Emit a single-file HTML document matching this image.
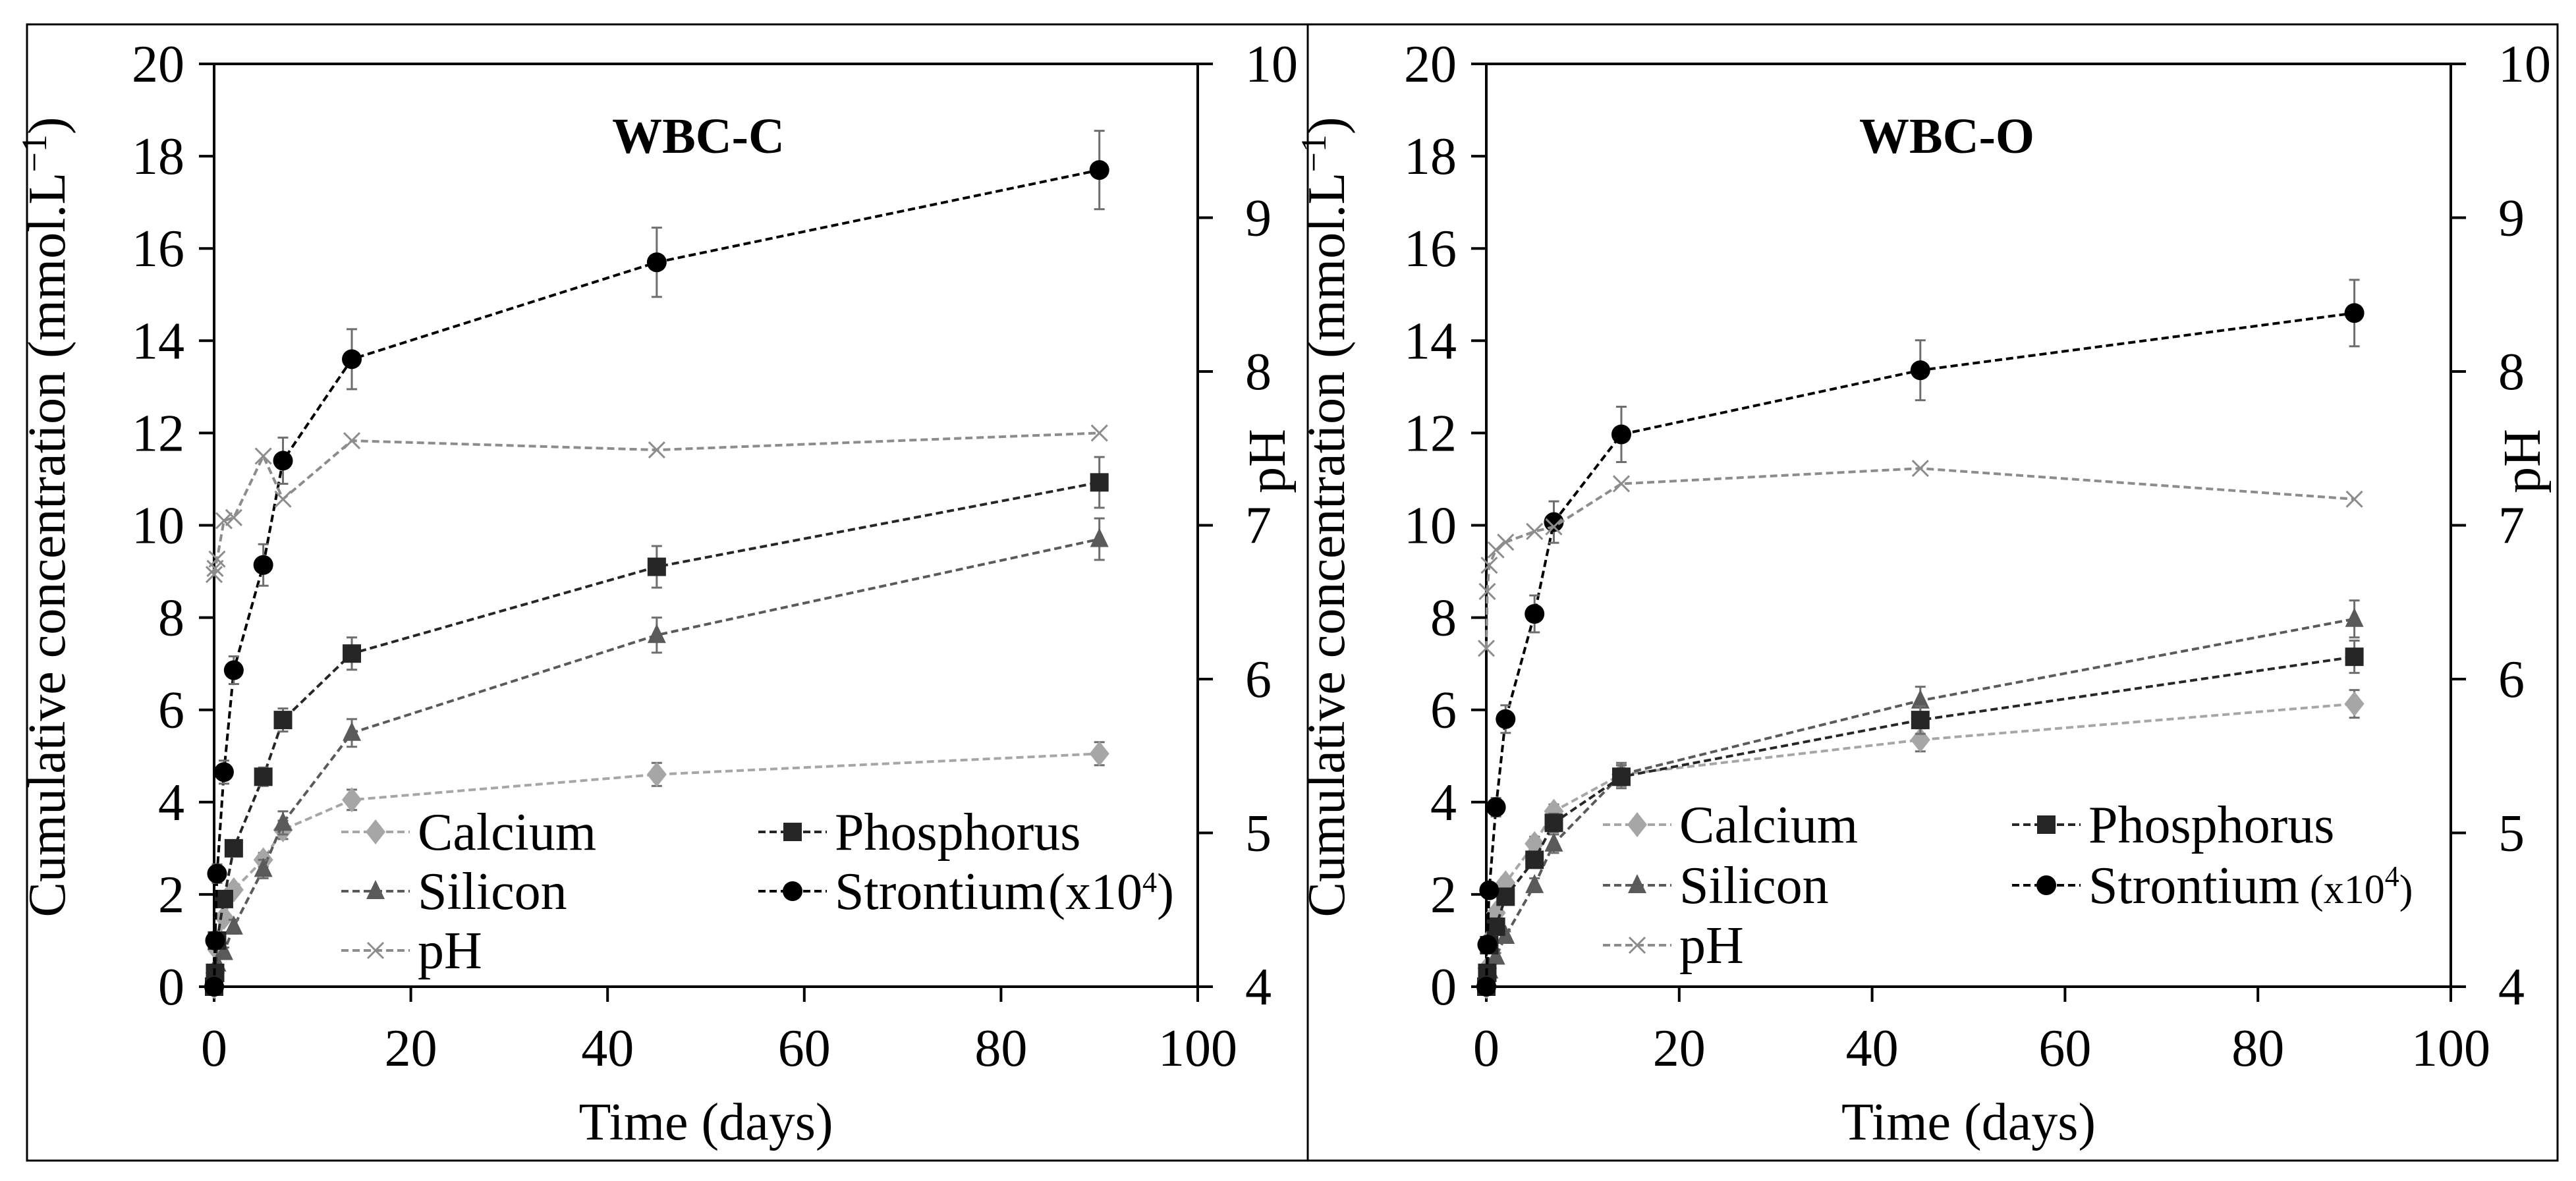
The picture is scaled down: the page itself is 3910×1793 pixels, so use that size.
<!DOCTYPE html>
<html><head><meta charset="utf-8"><style>
html,body{margin:0;padding:0;background:#fff;}
svg{display:block;}
svg text{font-family:"Liberation Serif","Times New Roman",serif;}
</style></head><body>
<svg id="fig" width="3910" height="1793" viewBox="0 0 3910 1793" font-family="Liberation Serif, serif">
<rect x="41" y="37" width="1944" height="1725" fill="none" stroke="#000" stroke-width="3"/>
<rect x="1985" y="37" width="1897" height="1725" fill="none" stroke="#000" stroke-width="3"/>
</svg>
<script>
const times = [0, 0.1, 0.3, 1, 2, 5, 7, 14, 45, 90];
const xTicks = [0, 20, 40, 60, 80, 100];
const yTicks = [0, 2, 4, 6, 8, 10, 12, 14, 16, 18, 20];
const pHTicks = [4, 5, 6, 7, 8, 9, 10];

const cCalcium = [0, 0.3, 0.8, 1.5, 2.1, 2.75, 3.4, 4.05, 4.6, 5.05];
const cCalciumErr = [0, 0, 0, 0, 0.1, 0.15, 0.2, 0.22, 0.25, 0.25];
const cPhosphorus = [0, 0.3, 1.0, 1.9, 3.0, 4.55, 5.78, 7.22, 9.1, 10.93];
const cPhosphorusErr = [0, 0, 0, 0.1, 0.15, 0.2, 0.25, 0.35, 0.45, 0.55];
const cSilicon = [0, 0.2, 0.5, 0.75, 1.3, 2.55, 3.55, 5.5, 7.62, 9.7];
const cSiliconErr = [0, 0, 0, 0.1, 0.15, 0.2, 0.25, 0.3, 0.38, 0.45];
const cStrontium = [0, 1.0, 2.45, 4.65, 6.86, 9.14, 11.4, 13.6, 15.7, 17.7];
const cStrontiumErr = [0, 0.1, 0.2, 0.25, 0.3, 0.45, 0.5, 0.65, 0.75, 0.85];
const cPH = [6.68, 6.72, 6.78, 7.03, 7.05, 7.45, 7.17, 7.55, 7.49, 7.6];

const oCalcium = [0, 0.4, 1.0, 1.6, 2.25, 3.1, 3.8, 4.6, 5.35, 6.13];
const oCalciumErr = [0, 0, 0, 0.1, 0.12, 0.15, 0.15, 0.2, 0.25, 0.3];
const oPhosphorus = [0, 0.3, 0.9, 1.3, 1.95, 2.75, 3.55, 4.55, 5.78, 7.15];
const oPhosphorusErr = [0, 0, 0, 0.1, 0.12, 0.15, 0.2, 0.25, 0.3, 0.35];
const oSilicon = [0, 0.2, 0.35, 0.65, 1.1, 2.2, 3.1, 4.6, 6.2, 7.97];
const oSiliconErr = [0, 0, 0, 0.08, 0.1, 0.15, 0.2, 0.25, 0.3, 0.4];
const oStrontium = [0, 0.91, 2.09, 3.89, 5.8, 8.08, 10.07, 11.97, 13.36, 14.6];
const oStrontiumErr = [0, 0.1, 0.15, 0.2, 0.3, 0.4, 0.45, 0.6, 0.65, 0.72];
const oPH = [6.2, 6.57, 6.74, 6.84, 6.89, 6.96, 6.99, 7.27, 7.37, 7.17];

const NS = "http://www.w3.org/2000/svg";
const svg = document.getElementById('fig');
function mk(tag, attrs, parent, text){
  const e = document.createElementNS(NS, tag);
  for (const k in attrs) e.setAttribute(k, attrs[k]);
  if (tag === 'text') e.setAttribute('font-family', 'Liberation Serif, serif');
  if (text !== undefined) e.textContent = text;
  (parent||svg).appendChild(e);
  return e;
}
const COL = {ca:'#a6a6a6', p:'#262626', si:'#5a5a5a', sr:'#000000', ph:'#8c8c8c'};

function marker(g, type, x, y, color){
  let m;
  if (type==='diamond') m = mk('polygon',{points:`${x},${y-19} ${x+15},${y} ${x},${y+19} ${x-15},${y}`,fill:color},g);
  else if (type==='square') m = mk('rect',{x:x-14,y:y-14,width:28,height:28,fill:color},g);
  else if (type==='triangle') m = mk('polygon',{points:`${x},${y-17} ${x+14},${y+12} ${x-14},${y+12}`,fill:color},g);
  else if (type==='circle') m = mk('circle',{cx:x,cy:y,r:15,fill:color},g);
  else { m = mk('path',{d:`M${x-12},${y-12}L${x+12},${y+12}M${x-12},${y+12}L${x+12},${y-12}`,stroke:color,'stroke-width':3,fill:'none'},g); }
  return m;
}

function panel(cfg){
  const L=cfg.L, R=cfg.R, T=97, B=1498;
  const xS = v => L + (v/100)*(R-L);
  const yS = v => B - (v/20)*(B-T);
  const pS = v => B - ((v-4)/6)*(B-T);
  const g = mk('g',{});
  
  
  const ax = mk('path',{d:`M${L},${T}H${R}V${B}H${L}Z`,fill:'none',stroke:'#000','stroke-width':4},g);
  
  
  yTicks.forEach(v=>{
    mk('line',{x1:L-23,x2:L,y1:yS(v),y2:yS(v),stroke:'#000','stroke-width':4},g);
    const t = mk('text',{x:L-45,y:yS(v)+27,'text-anchor':'end','font-size':80},g,String(v));
    
    
  });
  pHTicks.forEach(v=>{
    mk('line',{x1:R,x2:R+23,y1:pS(v),y2:pS(v),stroke:'#000','stroke-width':4},g);
    const t = mk('text',{x:R+72,y:pS(v)+27,'text-anchor':'start','font-size':80},g,String(v));
    
    
  });
  xTicks.forEach(v=>{
    mk('line',{x1:xS(v),x2:xS(v),y1:B,y2:B+23,stroke:'#000','stroke-width':4},g);
    const t = mk('text',{x:xS(v),y:1618,'text-anchor':'middle','font-size':80},g,String(v));
    
    
  });
  const xt = mk('text',{x:(L+R)/2,y:1730,'text-anchor':'middle','font-size':80},g,'Time (days)');
  
  
  const yt = mk('text',{x:0,y:0,'text-anchor':'middle','font-size':80,transform:`translate(${cfg.yTitleX},785) rotate(-90)`},g);
  
  
  mk('tspan',{},yt,'Cumulative concentration (mmol.L');
  mk('tspan',{dy:-28,'font-size':54},yt,'\u22121');
  mk('tspan',{dy:28},yt,')');
  const pt = mk('text',{x:0,y:0,'text-anchor':'middle','font-size':80,transform:`translate(${cfg.pTitleX},700) rotate(-90)`},g,'pH');
  
  
  const ti = mk('text',{x:cfg.titleX,y:232,'text-anchor':'middle','font-size':76,'font-weight':'bold'},g,cfg.title);
  
  

  const series = [
    {name:'calcium', vals:cfg.ca, err:cfg.caE, col:COL.ca, m:'diamond', sc:yS},
    {name:'silicon', vals:cfg.si, err:cfg.siE, col:COL.si, m:'triangle', sc:yS},
    {name:'phosphorus', vals:cfg.p, err:cfg.pE, col:COL.p, m:'square', sc:yS},
    {name:'strontium', vals:cfg.sr, err:cfg.srE, col:COL.sr, m:'circle', sc:yS},
    {name:'ph', vals:cfg.ph, err:null, col:COL.ph, m:'x', sc:pS}
  ];
  series.forEach(s=>{
    const sg = mk('g',{},g);
    
    
    const d = s.vals.map((v,i)=>(i?'L':'M')+xS(times[i])+','+s.sc(v)).join('');
    mk('path',{d:d,fill:'none',stroke:s.col,'stroke-width':4,'stroke-dasharray':'11,6'},sg);
    s.vals.forEach((v,i)=>{
      const x=xS(times[i]), y=s.sc(v);
      if (s.err && s.err[i]>0){
        const e1=yS(v+s.err[i]), e2=yS(v-s.err[i]);
        mk('path',{d:`M${x},${e1}V${e2}M${x-8},${e1}H${x+8}M${x-8},${e2}H${x+8}`,stroke:'#6e6e6e','stroke-width':3,fill:'none'},sg);
      }
      const mm = marker(sg, s.m, x, y, s.col);
      
      
    });
  });

  const lg = mk('g',{},g);
  
  
  const entries = [
    {lab:'Calcium', col:COL.ca, m:'diamond', c:0, r:0},
    {lab:'Phosphorus', col:COL.p, m:'square', c:1, r:0},
    {lab:'Silicon', col:COL.si, m:'triangle', c:0, r:1},
    {lab:'Strontium', col:COL.sr, m:'circle', c:1, r:1, sup:true},
    {lab:'pH', col:COL.ph, m:'x', c:0, r:2}
  ];
  entries.forEach(en=>{
    const mx = en.c? cfg.lgX2 : cfg.lgX1;
    const my = cfg.lgY[en.r];
    const eg = mk('g',{},lg);
    
    
    mk('line',{x1:mx-52,x2:mx+52,y1:my,y2:my,stroke:en.col,'stroke-width':4,'stroke-dasharray':'11,6'},eg);
    marker(eg, en.m, mx, my, en.col);
    const t = mk('text',{x:mx+64,y:my+27,'font-size':80},eg,en.lab);
    if (en.sup){
      mk('tspan',{dx:cfg.supGap,'font-size':cfg.supSize},t,'(x10');
      mk('tspan',{dy:-26,'font-size':44},t,'4');
      mk('tspan',{dy:26,'font-size':cfg.supSize},t,')');
    }
  });
}

panel({id:'wbc-c', L:325, R:1818, title:'WBC-C', titleX:1060, yTitleX:98, pTitleX:1950,
  ca:cCalcium, caE:cCalciumErr, p:cPhosphorus, pE:cPhosphorusErr, si:cSilicon, siE:cSiliconErr,
  sr:cStrontium, srE:cStrontiumErr, ph:cPH, lgX1:570, lgX2:1203, lgY:[1263,1353,1443], supGap:4, supSize:78});
panel({id:'wbc-o', L:2256, R:3720, title:'WBC-O', titleX:2955, yTitleX:2040, pTitleX:3855,
  ca:oCalcium, caE:oCalciumErr, p:oPhosphorus, pE:oPhosphorusErr, si:oSilicon, siE:oSiliconErr,
  sr:oStrontium, srE:oStrontiumErr, ph:oPH, lgX1:2485, lgX2:3106, lgY:[1252,1344,1435], supGap:16, supSize:62});
</script>
</body></html>
